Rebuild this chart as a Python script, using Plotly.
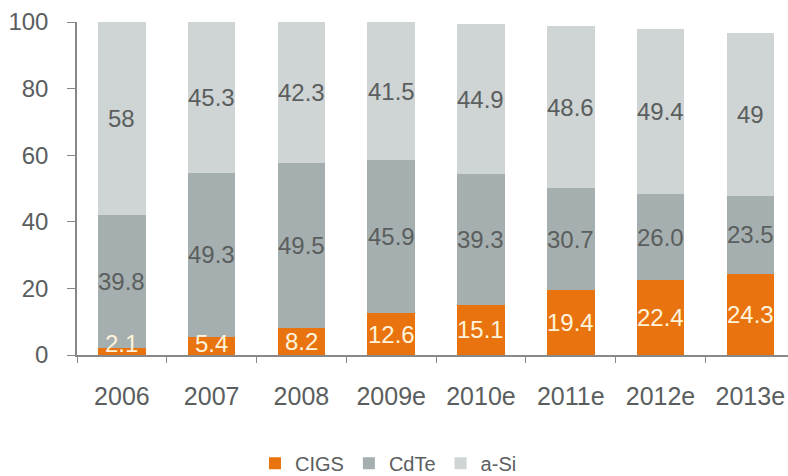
import plotly.graph_objects as go

years = ["2006", "2007", "2008", "2009e", "2010e", "2011e", "2012e", "2013e"]
cigs = [2.1, 5.4, 8.2, 12.6, 15.1, 19.4, 22.4, 24.3]
cdte = [39.8, 49.3, 49.5, 45.9, 39.3, 30.7, 26.0, 23.5]
asi = [58, 45.3, 42.3, 41.5, 44.9, 48.6, 49.4, 49]

cigs_text = ["2.1", "5.4", "8.2", "12.6", "15.1", "19.4", "22.4", "24.3"]
cdte_text = ["39.8", "49.3", "49.5", "45.9", "39.3", "30.7", "26.0", "23.5"]
asi_text = ["58", "45.3", "42.3", "41.5", "44.9", "48.6", "49.4", "49"]

C_CIGS = "#E9740F"
C_CDTE = "#A6AFAF"
C_ASI = "#CFD4D4"
FONT = "Liberation Sans, Arial, sans-serif"
TXT = "#5A5E5E"

fig = go.Figure()
for name, vals, col in [("CIGS", cigs, C_CIGS), ("CdTe", cdte, C_CDTE), ("a-Si", asi, C_ASI)]:
    fig.add_trace(go.Bar(x=years, y=vals, name=name, marker=dict(color=col, line=dict(width=0))))

# value labels centred in each segment (small segments nudged up to stay readable)
annotations = []
for i, yr in enumerate(years):
    base = 0.0
    for vals, texts, col in [(cigs, cigs_text, "#FFF3DC"), (cdte, cdte_text, TXT), (asi, asi_text, TXT)]:
        mid = base + vals[i] / 2
        if vals[i] < 8:
            mid = max(mid, 3.4)
        annotations.append(dict(x=i, y=mid, text=texts[i], showarrow=False,
                                font=dict(family=FONT, size=24, color=col), xref="x", yref="y"))
        base += vals[i]

fig.update_layout(
    barmode="stack",
    bargap=0.47,
    width=788, height=476,
    margin=dict(l=77, r=0, t=22, b=121),
    paper_bgcolor="white", plot_bgcolor="white",
    font=dict(family=FONT, color=TXT),
    annotations=annotations,
    legend=dict(orientation="h", xref="container", yref="container",
                x=0.493, xanchor="center", y=0.027, yanchor="middle",
                font=dict(family=FONT, size=20, color=TXT), traceorder="normal",
                itemwidth=30),
    xaxis=dict(type="category", range=[-0.5, 7.42], showline=True, linecolor="#888888", linewidth=1.5,
               ticks="outside", tickson="boundaries", ticklen=6, tickcolor="#888888",
               ticklabelstandoff=18,
               tickfont=dict(family=FONT, size=25, color=TXT), showgrid=False),
    yaxis=dict(range=[0, 100], tickvals=[0, 20, 40, 60, 80, 100], showline=True,
               linecolor="#888888", linewidth=1.5, ticks="outside", ticklen=8,
               tickcolor="#888888", ticklabelstandoff=14,
               tickfont=dict(family=FONT, size=24, color=TXT), showgrid=False, zeroline=False),
)

fig.write_html("out.html")
